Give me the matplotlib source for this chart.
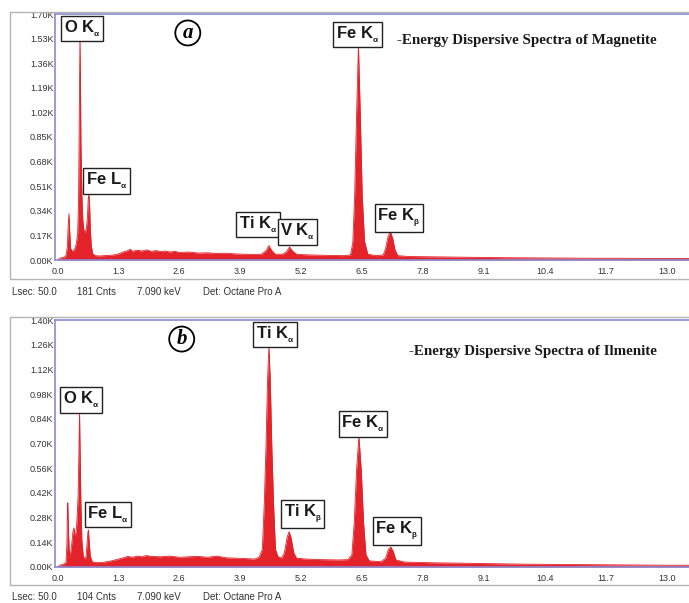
import numpy as np
import matplotlib.pyplot as plt
from matplotlib.patches import Rectangle

# spectrum (a) - magnetite (keV, counts)
energy_a = [0.00, 0.04, 0.08, 0.14, 0.18, 0.21, 0.23, 0.245, 0.26, 0.28, 0.32, 0.36,
            0.40, 0.43, 0.45, 0.46, 0.47, 0.48, 0.49, 0.50, 0.52, 0.54, 0.56, 0.58,
            0.60, 0.62, 0.64, 0.655, 0.67, 0.685, 0.70, 0.72, 0.75, 0.80, 0.90, 1.00,
            1.10, 1.20, 1.30, 1.40, 1.50, 1.55, 1.60, 1.70, 1.80, 1.90, 2.00, 2.10,
            2.20, 2.30, 2.40, 2.50, 2.60, 2.80, 3.00, 3.20, 3.40, 3.60, 3.80, 4.00,
            4.20, 4.35, 4.45, 4.51, 4.57, 4.65, 4.80, 4.88, 4.95, 5.02, 5.10, 5.30,
            5.50, 5.80, 6.10, 6.25, 6.30, 6.34, 6.38, 6.42, 6.46, 6.50, 6.55, 6.62,
            6.80, 6.95, 7.00, 7.05, 7.10, 7.15, 7.20, 7.26, 7.50, 8.00, 8.50, 9.00,
            9.50, 10.0, 10.5, 11.0, 11.5, 12.0, 12.5, 13.0, 13.6]
counts_a = [0, 10, 15, 20, 30, 90, 250, 320, 200, 80, 60, 70,
            110, 180, 420, 800, 1200, 1560, 1250, 800, 450, 280, 210, 190,
            200, 230, 300, 420, 455, 380, 220, 100, 45, 30, 28, 30,
            32, 35, 42, 55, 65, 75, 60, 68, 62, 70, 60, 65,
            58, 62, 55, 60, 52, 55, 48, 50, 45, 47, 42, 40,
            38, 40, 65, 100, 65, 40, 40, 55, 90, 60, 40, 36,
            34, 32, 30, 35, 120, 450, 1000, 1480, 1000, 450, 130, 40,
            30, 35, 80, 160, 197, 150, 70, 30, 24, 22, 20, 18,
            16, 15, 14, 13, 12, 12, 11, 10, 10]

# spectrum (b) - ilmenite
energy_b = [0.00, 0.05, 0.12, 0.18, 0.20, 0.21, 0.22, 0.235, 0.25, 0.27, 0.30, 0.33,
            0.35, 0.37, 0.39, 0.41, 0.44, 0.46, 0.47, 0.48, 0.50, 0.52, 0.55, 0.58,
            0.61, 0.63, 0.65, 0.66, 0.675, 0.70, 0.74, 0.80, 0.90, 1.00, 1.10, 1.20,
            1.30, 1.40, 1.50, 1.60, 1.70, 1.80, 1.90, 2.00, 2.20, 2.40, 2.60, 2.80,
            3.00, 3.20, 3.40, 3.60, 3.80, 4.00, 4.20, 4.30, 4.37, 4.41, 4.45, 4.48,
            4.51, 4.54, 4.57, 4.61, 4.65, 4.70, 4.78, 4.84, 4.90, 4.94, 4.98, 5.04,
            5.10, 5.30, 5.60, 6.00, 6.20, 6.28, 6.33, 6.38, 6.43, 6.48, 6.53, 6.58,
            6.65, 6.90, 7.00, 7.06, 7.11, 7.16, 7.22, 7.40, 8.00, 9.00, 10.0, 11.0,
            12.0, 13.0, 13.6]
counts_b = [0, 10, 15, 25, 120, 300, 364, 200, 90, 60, 120, 200,
            222, 180, 190, 240, 400, 700, 880, 700, 350, 150, 60, 45,
            60, 130, 200, 210, 150, 60, 30, 25, 25, 28, 32, 38,
            45, 52, 60, 55, 62, 58, 65, 60, 58, 62, 55, 58,
            60, 55, 62, 52, 50, 48, 45, 55, 100, 350, 700, 1050,
            1250, 1050, 700, 350, 100, 60, 50, 80, 170, 200, 170, 80,
            50, 45, 42, 40, 42, 70, 250, 550, 740, 550, 250, 70,
            35, 30, 50, 100, 114, 90, 40, 28, 24, 20, 16, 14,
            12, 10, 10]

xtick_vals = [0.0, 1.3, 2.6, 3.9, 5.2, 6.5, 7.8, 9.1, 10.4, 11.7, 13.0]
ytick_a = [0, 170, 340, 510, 680, 850, 1020, 1190, 1360, 1530, 1700]
ytick_b = [0, 140, 280, 420, 560, 700, 840, 980, 1120, 1260, 1400]

labels_a = [(r'O K$_{_\alpha}$', 0.53, 1600), (r'Fe L$_{_\alpha}$', 1.05, 546),
            (r'Ti K$_{_\alpha}$', 4.28, 245), (r'V K$_{_\alpha}$', 5.12, 193),
            (r'Fe K$_{_\alpha}$', 6.40, 1558), (r'Fe K$_{_\beta}$', 7.28, 290)]
labels_b = [(r'O K$_{_\alpha}$', 0.51, 947), (r'Fe L$_{_\alpha}$', 1.08, 298),
            (r'Ti K$_{_\alpha}$', 4.64, 1318), (r'Ti K$_{_\beta}$', 5.23, 300),
            (r'Fe K$_{_\alpha}$', 6.52, 810), (r'Fe K$_{_\beta}$', 7.24, 204)]

footer_a = ['Lsec: 50.0', '181 Cnts', '7.090 keV', 'Det: Octane Pro A']
footer_b = ['Lsec: 50.0', '104 Cnts', '7.090 keV', 'Det: Octane Pro A']

plt.rcParams['mathtext.fontset'] = 'custom'
plt.rcParams['mathtext.rm'] = 'Liberation Sans:bold'
plt.rcParams['mathtext.it'] = 'Liberation Sans:bold'

W, H = 689, 603
RED = '#e3222a'
SPINE = '#8a8ad2'

fig = plt.figure(figsize=(W / 100, H / 100), dpi=100)


def fx(px):
    return px / W


def fy(py):
    return 1 - py / H


def panel(top, bottom, energy, counts, yticks, labels, letter, letter_pos, title, title_pos, footer, footer_y, frame):
    fig.add_artist(Rectangle((fx(10), fy(frame[1])), fx(720) - fx(10), fy(frame[0]) - fy(frame[1]),
                             transform=fig.transFigure, fill=False, ec='#b4b4b4', lw=1.0))
    ax = fig.add_axes([fx(55), fy(bottom), fx(695) - fx(55), fy(top) - fy(bottom)])
    ax.fill_between(energy, counts, color=RED, lw=0)
    ax.plot(energy, counts, color=RED, lw=0.6)
    ax.set_xlim(-0.053, 13.6)
    ax.set_ylim(0, yticks[-1])
    ax.set_xticks(xtick_vals)
    ax.set_xticklabels([f'{v:.1f}' for v in xtick_vals])
    ax.set_yticks(yticks)
    ax.set_yticklabels([f'{v / 1000:.2f}K' for v in yticks])
    ax.tick_params(length=0, labelsize=6.5, labelcolor='#333333')
    ax.tick_params(axis='y', pad=1)
    ax.tick_params(axis='x', pad=5)
    for t in ax.get_xticklabels() + ax.get_yticklabels():
        t.set_fontfamily('Liberation Sans')
    for s in ['left', 'top', 'bottom']:
        ax.spines[s].set_color(SPINE)
        ax.spines[s].set_linewidth(1.2)
    ax.spines['right'].set_visible(False)

    for txt, x, y in labels:
        ax.text(x, y, txt, ha='center', va='center', fontsize=12, fontweight='bold',
                fontfamily='Liberation Sans', color='#1a1a1a', zorder=5,
                bbox=dict(boxstyle='square,pad=0.15', fc='white', ec='#222222', lw=1.0))
    ax.text(letter_pos[0], letter_pos[1], letter, ha='center', va='center', fontsize=15,
            fontfamily='Liberation Serif', fontstyle='italic', fontweight='bold', zorder=5,
            bbox=dict(boxstyle='circle,pad=0.12', fc='white', ec='black', lw=1.3))
    ax.text(title_pos[0], title_pos[1], title, ha='left', va='center', fontsize=10.8,
            fontfamily='Liberation Serif', fontweight='bold', color='#1a1a1a', zorder=5)

    for txt, px in zip(footer, [12, 77, 137, 203]):
        fig.text(fx(px), fy(footer_y), txt, fontsize=7, va='center', color='#333333',
                 fontfamily='Liberation Sans')
    return ax


panel(14, 260, energy_a, counts_a, ytick_a, labels_a, 'a', (2.78, 1569),
      '-Energy Dispersive Spectra of Magnetite', (7.24, 1520), footer_a, 292, (12, 279))
panel(320, 567, energy_b, counts_b, ytick_b, labels_b, 'b', (2.65, 1292),
      '-Energy Dispersive Spectra of Ilmenite', (7.50, 1219), footer_b, 597, (317, 585))

fig.savefig('out.png', dpi=100, facecolor='white')
